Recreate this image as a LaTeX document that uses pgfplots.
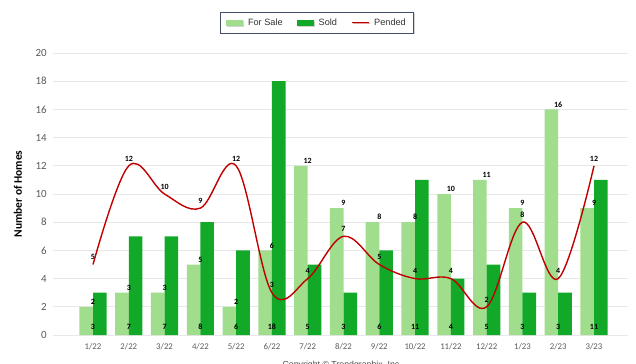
\documentclass[border=0pt]{standalone}
\usepackage{fontspec}
\setmainfont{Carlito}
\newfontfamily\legfont{Liberation Sans}
\usepackage{pgfplots}
\pgfplotsset{compat=1.18}
\usepackage{pgfplotstable}
\usetikzlibrary{shadows}
\definecolor{forsale}{RGB}{160,221,140}
\definecolor{sold}{RGB}{18,168,40}
\definecolor{pended}{RGB}{192,0,0}
\definecolor{gridc}{RGB}{232,232,232}
\definecolor{tickc}{RGB}{90,90,90}
\definecolor{legborder}{RGB}{70,78,110}

\pgfplotstableread{
x forsale sold pended
0 2 3 5
1 3 7 12
2 3 7 10
3 5 8 9
4 2 6 12
5 6 18 3
6 12 5 4
7 9 3 7
8 8 6 5
9 8 11 4
10 10 4 4
11 11 5 2
12 9 3 8
13 16 3 4
14 9 11 12
}\data

\begin{document}
\begin{tikzpicture}[x=1bp,y=1bp]
\useasboundingbox (0,0) rectangle (636,363);
\begin{axis}[
  at={(53bp,28bp)}, anchor=south west,
  scale only axis, width=575bp, height=282bp,
  xmin=-1.118, xmax=14.95, ymin=0, ymax=20,
  ytick={0,2,...,20},
  xtick={0,...,14},
  xticklabels={1/22,2/22,3/22,4/22,5/22,6/22,7/22,8/22,9/22,10/22,11/22,12/22,1/23,2/23,3/23},
  axis line style={draw=none},
  major tick length=0pt,
  ymajorgrids, grid style={draw=gridc, line width=0.8bp},
  /pgf/number format/assume math mode=true,
  yticklabel style={font=\fontsize{11}{13}\selectfont, text=tickc, anchor=east, inner sep=0pt, xshift=-6bp},
  xticklabel style={font=\fontsize{8.8}{10}\selectfont, text=tickc, anchor=center, inner sep=0pt, yshift=-12bp},
  every axis y label/.style={at={(axis description cs:-0.061,0.5)}, rotate=90, anchor=center},
  ylabel={\fontsize{11.5}{13}\selectfont\bfseries Number of Homes},
  legend columns=3,
  legend style={at={(axis description cs:0.459,1.108)}, anchor=center,
    draw=legborder, line width=0.8bp, fill=white,
    drop shadow={shadow xshift=1bp, shadow yshift=-1.2bp, opacity=0.35},
    font=\legfont\fontsize{9.2}{10}\selectfont, text=black!80,
    inner xsep=6bp, inner ysep=4.5bp,
    /tikz/every odd column/.append style={column sep=3bp},
    /tikz/every even column/.append style={column sep=12bp}},
  nodes near coords style={font=\fontsize{8}{9}\selectfont\bfseries, text=black},
]
\addplot[ybar, bar width=0.38, bar shift=-0.19, fill=forsale, draw=none,
  legend image code/.code={\fill[forsale] (0bp,-3bp) rectangle (17bp,3bp);},
  nodes near coords, every node near coord/.append style={anchor=south, inner sep=1.5bp, yshift=0.5bp}]
  table[x=x, y=forsale]{\data};
\addlegendentry{For Sale}
\addplot[ybar, bar width=0.38, bar shift=0.19, fill=sold, draw=none,
  legend image code/.code={\fill[sold] (0bp,-3bp) rectangle (17bp,3bp);}]
  table[x=x, y=sold]{\data};
\addlegendentry{Sold}
\addplot[pended, line width=1.4bp, smooth, tension=0.6, mark=none,
  legend image code/.code={\draw[pended, line width=1.2bp] (0bp,0bp) -- (17bp,0bp);},
  nodes near coords, every node near coord/.append style={anchor=south, inner sep=1.5bp, yshift=2.5bp, text=black}]
  table[x=x, y=pended]{\data};
\addlegendentry{Pended}
\addplot[draw=none, mark=none, forget plot, nodes near coords, point meta=explicit,
  every node near coord/.append style={anchor=center, inner sep=0pt}]
  table[x=x, y expr=0.57, meta=sold]{\data};
\end{axis}
\node[anchor=north, inner sep=0pt, font=\legfont\fontsize{8.8}{10}\selectfont, text=black!70] at (341,2.5) {Copyright © Trendgraphix, Inc};
\end{tikzpicture}
\end{document}
